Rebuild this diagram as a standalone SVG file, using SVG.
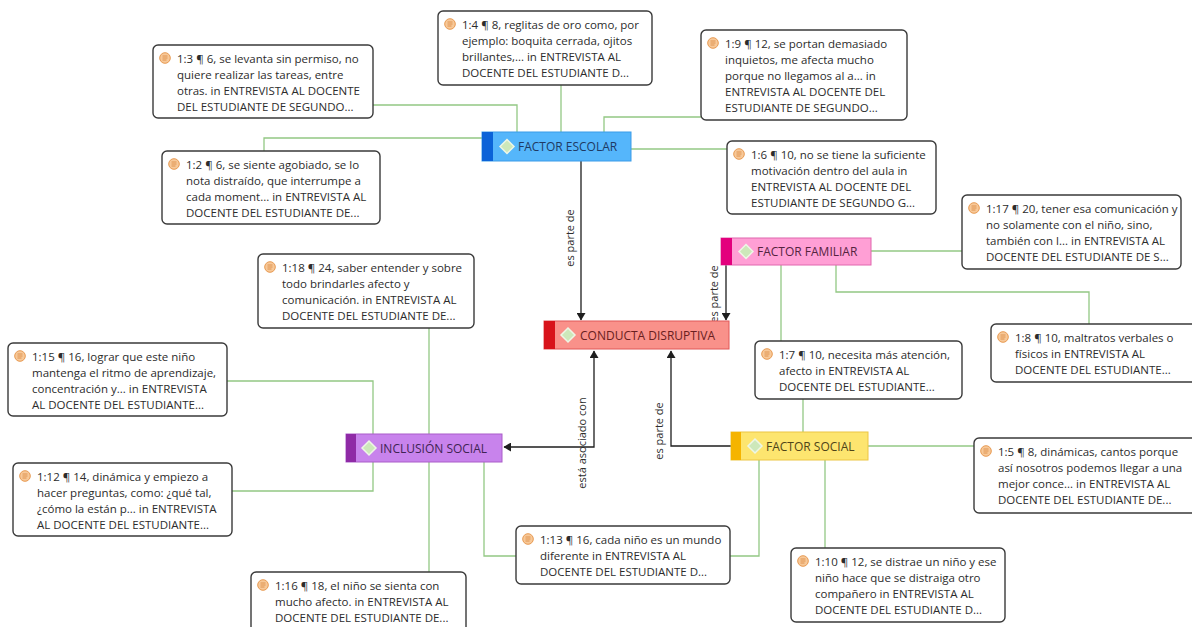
<svg xmlns="http://www.w3.org/2000/svg" width="1192" height="627" viewBox="0 0 1192 627">
<style>
.q{fill:#ffffff;stroke:#3a3a3a;stroke-width:1.4}
.qt{font-family:"Open Sans","Noto Sans","DejaVu Sans",sans-serif;font-size:11.5px;fill:#2c2c2c}
.nt{font-family:"Open Sans","Noto Sans","DejaVu Sans",sans-serif;font-size:12px}
.lt{font-family:"Open Sans","Noto Sans","DejaVu Sans",sans-serif;font-size:11px;fill:#2e2e2e}
.g{fill:none;stroke:#93c884;stroke-width:1.3}
.a{fill:none;stroke:#1e1e1e;stroke-width:1.3}
.ic{fill:#f7c898;stroke:#e89a52;stroke-width:1}
.il{stroke:#d9873c;stroke-width:0.8}
.dm{fill:#cde8ba;stroke:#eef6e6;stroke-width:1.5}
</style>
<defs>
<marker id="ah" markerUnits="userSpaceOnUse" markerWidth="8" markerHeight="9" refX="7" refY="4.5" orient="auto-start-reverse" viewBox="0 0 8 9">
<path d="M0,0 L7.5,4.5 L0,9 z" fill="#1e1e1e"/>
</marker>
<g id="icon">
<circle class="ic" cx="0" cy="0" r="5.3"/>
<path class="il" d="M-2.5,-2 H2.5 M-2.5,0 H2.5 M-2.5,2 H1.5"/>
</g>
</defs>
<rect width="1192" height="627" fill="#ffffff"/>

<g id="connectors">
<path class="g" d="M517,133 V105 H373"/>
<path class="g" d="M561,133 V85"/>
<path class="g" d="M604,133 V117 H701"/>
<path class="g" d="M482,138 H264 V151"/>
<path class="g" d="M631,149 H727"/>
<path class="g" d="M871,251 H962"/>
<path class="g" d="M781,265 V341"/>
<path class="g" d="M836,265 V292 H1089 V324"/>
<path class="g" d="M429,434 V328"/>
<path class="g" d="M373,434 V381 H227"/>
<path class="g" d="M373,462 V491 H232"/>
<path class="g" d="M429,462 V572"/>
<path class="g" d="M484,462 V556 H516"/>
<path class="g" d="M803,432 V399"/>
<path class="g" d="M868,446 H974"/>
<path class="g" d="M759,460 V556 H730"/>
<path class="g" d="M825,460 V548"/>
<path class="a" d="M581,161 V320" marker-end="url(#ah)"/>
<path class="a" d="M726,265 V320" marker-end="url(#ah)"/>
<path class="a" d="M504,447 H594 V351" marker-start="url(#ah)" marker-end="url(#ah)"/>
<path class="a" d="M731,446 H671 V351" marker-end="url(#ah)"/>
<text class="lt" text-anchor="middle" transform="translate(574,238) rotate(-90)">es parte de</text>
<text class="lt" text-anchor="middle" transform="translate(718,294) rotate(-90)">es parte de</text>
<text class="lt" text-anchor="middle" transform="translate(586,443) rotate(-90)">está asociado con</text>
<text class="lt" text-anchor="middle" transform="translate(663,431) rotate(-90)">es parte de</text>
</g>

<g id="factor-escolar">
<rect x="482" y="132" width="149" height="29" fill="#55b6fb" stroke="#3b9be8"/>
<rect x="482" y="132" width="11" height="29" fill="#0b63d8"/>
<polygon class="dm" points="507,139.5 514,146.5 507,153.5 500,146.5"/>
<text class="nt" x="518" y="151" fill="#1f3a63">FACTOR ESCOLAR</text>
</g>
<g id="factor-familiar">
<rect x="721" y="238" width="150" height="27" fill="#ff9fd5" stroke="#e066ae"/>
<rect x="721" y="238" width="11" height="27" fill="#e3007d"/>
<polygon class="dm" points="746,244.5 753,251.5 746,258.5 739,251.5"/>
<text class="nt" x="757" y="256" fill="#55243f">FACTOR FAMILIAR</text>
</g>
<g id="conducta-disruptiva">
<rect x="544" y="321" width="185" height="28" fill="#f9918a" stroke="#e05656"/>
<rect x="544" y="321" width="11" height="28" fill="#d8131a"/>
<polygon class="dm" points="568,328 575,335 568,342 561,335"/>
<text class="nt" x="580" y="339.5" fill="#6a2020">CONDUCTA DISRUPTIVA</text>
</g>
<g id="inclusion-social">
<rect x="346" y="434" width="156" height="28" fill="#c883ec" stroke="#aa5cc9"/>
<rect x="346" y="434" width="10" height="28" fill="#8f2aa6"/>
<polygon class="dm" points="369,441 376,448 369,455 362,448"/>
<text class="nt" x="380" y="452.5" fill="#3f2453">INCLUSIÓN SOCIAL</text>
</g>
<g id="factor-social">
<rect x="731" y="432" width="137" height="28" fill="#fde56f" stroke="#ecc545"/>
<rect x="731" y="432" width="10" height="28" fill="#f5b400"/>
<polygon class="dm" points="755,439 762,446 755,453 748,446"/>
<text class="nt" x="766" y="450.5" fill="#4f4418">FACTOR SOCIAL</text>
</g>

<g id="q-1-3">
<rect class="q" x="153" y="45" width="220" height="73" rx="5"/>
<use href="#icon" x="165" y="58"/>
<text class="qt"><tspan x="177" y="63">1:3 ¶ 6, se levanta sin permiso, no</tspan><tspan x="177" y="79">quiere realizar las tareas, entre</tspan><tspan x="177" y="95">otras. in ENTREVISTA AL DOCENTE</tspan><tspan x="177" y="111">DEL ESTUDIANTE DE SEGUNDO...</tspan></text>
</g>
<g id="q-1-4">
<rect class="q" x="438" y="11" width="214" height="74" rx="5"/>
<use href="#icon" x="450" y="24"/>
<text class="qt"><tspan x="462" y="29">1:4 ¶ 8, reglitas de oro como, por</tspan><tspan x="462" y="45">ejemplo: boquita cerrada, ojitos</tspan><tspan x="462" y="61">brillantes,... in ENTREVISTA AL</tspan><tspan x="462" y="77">DOCENTE DEL ESTUDIANTE D...</tspan></text>
</g>
<g id="q-1-2">
<rect class="q" x="162" y="151" width="218" height="73" rx="5"/>
<use href="#icon" x="174" y="164"/>
<text class="qt"><tspan x="186" y="169">1:2 ¶ 6, se siente agobiado, se lo</tspan><tspan x="186" y="185">nota distraído, que interrumpe a</tspan><tspan x="186" y="201">cada moment... in ENTREVISTA AL</tspan><tspan x="186" y="217">DOCENTE DEL ESTUDIANTE DE...</tspan></text>
</g>
<g id="q-1-9">
<rect class="q" x="701" y="30" width="206" height="90" rx="5"/>
<use href="#icon" x="713" y="43"/>
<text class="qt"><tspan x="725" y="48">1:9 ¶ 12, se portan demasiado</tspan><tspan x="725" y="64">inquietos, me afecta mucho</tspan><tspan x="725" y="80">porque no llegamos al a... in</tspan><tspan x="725" y="96">ENTREVISTA AL DOCENTE DEL</tspan><tspan x="725" y="112">ESTUDIANTE DE SEGUNDO...</tspan></text>
</g>
<g id="q-1-6">
<rect class="q" x="727" y="141" width="209" height="73" rx="5"/>
<use href="#icon" x="739" y="154"/>
<text class="qt"><tspan x="751" y="159">1:6 ¶ 10, no se tiene la suficiente</tspan><tspan x="751" y="175">motivación dentro del aula in</tspan><tspan x="751" y="191">ENTREVISTA AL DOCENTE DEL</tspan><tspan x="751" y="207">ESTUDIANTE DE SEGUNDO G...</tspan></text>
</g>
<g id="q-1-17">
<rect class="q" x="962" y="195" width="219" height="74" rx="5"/>
<use href="#icon" x="974" y="208"/>
<text class="qt"><tspan x="986" y="213">1:17 ¶ 20, tener esa comunicación y</tspan><tspan x="986" y="229">no solamente con el niño, sino,</tspan><tspan x="986" y="245">también con l... in ENTREVISTA AL</tspan><tspan x="986" y="261">DOCENTE DEL ESTUDIANTE DE S...</tspan></text>
</g>
<g id="q-1-18">
<rect class="q" x="258" y="254" width="216" height="74" rx="5"/>
<use href="#icon" x="270" y="267"/>
<text class="qt"><tspan x="282" y="272">1:18 ¶ 24, saber entender y sobre</tspan><tspan x="282" y="288">todo brindarles afecto y</tspan><tspan x="282" y="304">comunicación. in ENTREVISTA AL</tspan><tspan x="282" y="320">DOCENTE DEL ESTUDIANTE DE...</tspan></text>
</g>
<g id="q-1-15">
<rect class="q" x="8" y="343" width="219" height="73" rx="5"/>
<use href="#icon" x="20" y="356"/>
<text class="qt"><tspan x="32" y="361">1:15 ¶ 16, lograr que este niño</tspan><tspan x="32" y="377">mantenga el ritmo de aprendizaje,</tspan><tspan x="32" y="393">concentración y... in ENTREVISTA</tspan><tspan x="32" y="409">AL DOCENTE DEL ESTUDIANTE...</tspan></text>
</g>
<g id="q-1-8">
<rect class="q" x="991" y="324" width="206" height="58" rx="5"/>
<use href="#icon" x="1003" y="337"/>
<text class="qt"><tspan x="1015" y="342">1:8 ¶ 10, maltratos verbales o</tspan><tspan x="1015" y="358">físicos in ENTREVISTA AL</tspan><tspan x="1015" y="374">DOCENTE DEL ESTUDIANTE...</tspan></text>
</g>
<g id="q-1-7">
<rect class="q" x="755" y="341" width="207" height="58" rx="5"/>
<use href="#icon" x="767" y="354"/>
<text class="qt"><tspan x="779" y="359">1:7 ¶ 10, necesita más atención,</tspan><tspan x="779" y="375">afecto in ENTREVISTA AL</tspan><tspan x="779" y="391">DOCENTE DEL ESTUDIANTE...</tspan></text>
</g>
<g id="q-1-12">
<rect class="q" x="13" y="463" width="219" height="73" rx="5"/>
<use href="#icon" x="25" y="476"/>
<text class="qt"><tspan x="37" y="481">1:12 ¶ 14, dinámica y empiezo a</tspan><tspan x="37" y="497">hacer preguntas, como: ¿qué tal,</tspan><tspan x="37" y="513">¿cómo la están p... in ENTREVISTA</tspan><tspan x="37" y="529">AL DOCENTE DEL ESTUDIANTE...</tspan></text>
</g>
<g id="q-1-5">
<rect class="q" x="974" y="438" width="223" height="75" rx="5"/>
<use href="#icon" x="986" y="451"/>
<text class="qt"><tspan x="998" y="456">1:5 ¶ 8, dinámicas, cantos porque</tspan><tspan x="998" y="472">así nosotros podemos llegar a una</tspan><tspan x="998" y="488">mejor conce... in ENTREVISTA AL</tspan><tspan x="998" y="504">DOCENTE DEL ESTUDIANTE DE...</tspan></text>
</g>
<g id="q-1-13">
<rect class="q" x="516" y="526" width="214" height="58" rx="5"/>
<use href="#icon" x="528" y="539"/>
<text class="qt"><tspan x="540" y="544">1:13 ¶ 16, cada niño es un mundo</tspan><tspan x="540" y="560">diferente in ENTREVISTA AL</tspan><tspan x="540" y="576">DOCENTE DEL ESTUDIANTE D...</tspan></text>
</g>
<g id="q-1-10">
<rect class="q" x="791" y="548" width="214" height="74" rx="5"/>
<use href="#icon" x="803" y="561"/>
<text class="qt"><tspan x="815" y="566">1:10 ¶ 12, se distrae un niño y ese</tspan><tspan x="815" y="582">niño hace que se distraiga otro</tspan><tspan x="815" y="598">compañero in ENTREVISTA AL</tspan><tspan x="815" y="614">DOCENTE DEL ESTUDIANTE D...</tspan></text>
</g>
<g id="q-1-16">
<rect class="q" x="251" y="572" width="215" height="60" rx="5"/>
<use href="#icon" x="263" y="585"/>
<text class="qt"><tspan x="275" y="590">1:16 ¶ 18, el niño se sienta con</tspan><tspan x="275" y="606">mucho afecto. in ENTREVISTA AL</tspan><tspan x="275" y="622">DOCENTE DEL ESTUDIANTE DE...</tspan></text>
</g>
</svg>
